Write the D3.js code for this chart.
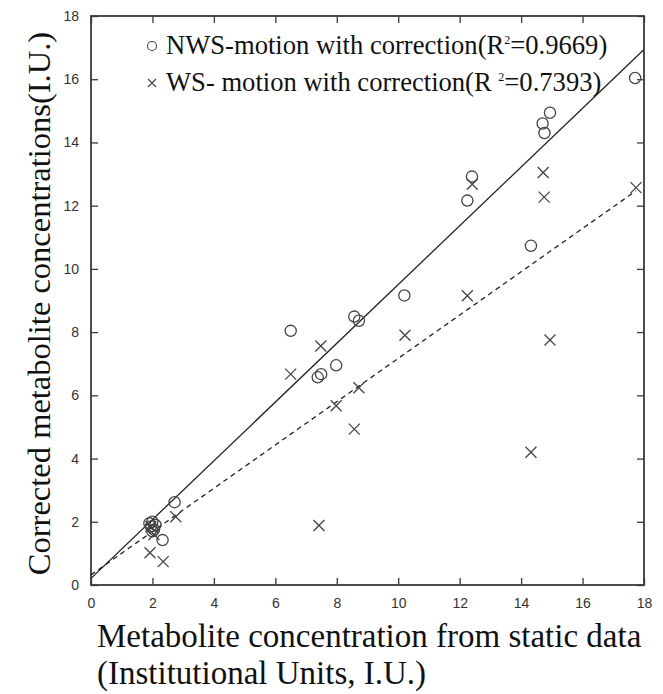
<!DOCTYPE html>
<html>
<head>
<meta charset="utf-8">
<script src="https://cdn.jsdelivr.net/npm/d3@7"></script>
<style>
  body { margin: 0; background: #fff; }
  svg { display: block; }
</style>
</head>
<body>
<div id="chart"></div>
<script>
// values
const nwsX = [1.90, 2.00, 1.95, 2.05, 2.10, 2.00, 2.33, 2.72, 6.50, 7.38, 7.49, 7.98, 8.57, 8.72, 10.20, 12.25, 12.40, 14.32, 14.70, 14.76, 14.94, 17.71];
const nwsY = [1.95, 2.00, 1.85, 1.75, 1.90, 1.70, 1.42, 2.62, 8.04, 6.57, 6.67, 6.95, 8.49, 8.36, 9.16, 12.16, 12.92, 10.73, 14.60, 14.30, 14.94, 16.04];
const wsX  = [1.92, 1.95, 2.05, 2.35, 2.76, 6.50, 7.42, 7.48, 7.98, 8.57, 8.72, 10.22, 12.25, 12.41, 14.32, 14.72, 14.75, 14.94, 17.74];
const wsY  = [1.02, 1.85, 1.60, 0.74, 2.16, 6.67, 1.88, 7.56, 5.67, 4.93, 6.24, 7.90, 9.15, 12.68, 4.20, 13.05, 12.27, 7.75, 12.57];
// fitted lines: [x0, y0, x1, y1]
const nwsFit = [0, 0.21, 18, 16.94];
const wsFit  = [0, 0.32, 17.74, 12.47];
const ticks  = [0, 2, 4, 6, 8, 10, 12, 14, 16, 18];
const legendLabels = ["NWS-motion with correction(R", "=0.9669)", "WS- motion with correction(R ", "=0.7393)"];

const W = 663, H = 694;
const margin = { top: 16, right: 19, bottom: 109, left: 91 };
const w = W - margin.left - margin.right;
const h = H - margin.top - margin.bottom;

const svg = d3.select('#chart').append('svg')
  .attr('width', W).attr('height', H);
const g = svg.append('g').attr('transform', `translate(${margin.left},${margin.top})`);

const x = d3.scaleLinear().domain([0, 18]).range([0, w]);
const y = d3.scaleLinear().domain([0, 18]).range([h, 0]);

const ink = '#3a3a3a';
const tickFont = "'Liberation Sans', Arial, sans-serif";
const serif = "'Liberation Serif', 'Times New Roman', serif";

// axes, ticks pointing inward on all sides
function styleAxis(sel) {
  sel.select('.domain').remove();
  sel.selectAll('line').attr('stroke', ink).attr('stroke-width', 1.3);
  sel.selectAll('text').attr('fill', '#333').style('font-family', tickFont).style('font-size', '14px');
}
g.append('g').attr('transform', `translate(0,${h})`)
  .call(d3.axisBottom(x).tickValues(ticks).tickSize(-7).tickPadding(13).tickFormat(d3.format('d')))
  .call(styleAxis);
g.append('g')
  .call(d3.axisLeft(y).tickValues(ticks).tickSize(-7).tickPadding(12).tickFormat(d3.format('d')))
  .call(styleAxis);
g.append('g')
  .call(d3.axisTop(x).tickValues(ticks).tickSize(-7).tickFormat(''))
  .call(styleAxis);
g.append('g').attr('transform', `translate(${w},0)`)
  .call(d3.axisRight(y).tickValues(ticks).tickSize(-7).tickFormat(''))
  .call(styleAxis);

g.append('rect').attr('width', w).attr('height', h)
  .attr('fill', 'none').attr('stroke', ink).attr('stroke-width', 1.8);

// fit lines
g.append('line')
  .attr('x1', x(nwsFit[0])).attr('y1', y(nwsFit[1]))
  .attr('x2', x(nwsFit[2])).attr('y2', y(nwsFit[3]))
  .attr('stroke', '#222').attr('stroke-width', 1.3);
g.append('line')
  .attr('x1', x(wsFit[0])).attr('y1', y(wsFit[1]))
  .attr('x2', x(wsFit[2])).attr('y2', y(wsFit[3]))
  .attr('stroke', '#222').attr('stroke-width', 1.3)
  .attr('stroke-dasharray', '5,4');

// points
const markColor = '#444';
g.append('g').selectAll('circle')
  .data(d3.zip(nwsX, nwsY))
  .enter().append('circle')
    .attr('cx', d => x(d[0])).attr('cy', d => y(d[1]))
    .attr('r', 5.6)
    .attr('fill', 'none').attr('stroke', markColor).attr('stroke-width', 1.3);

const s = 5.5;
g.append('g').selectAll('path')
  .data(d3.zip(wsX, wsY))
  .enter().append('path')
    .attr('transform', d => `translate(${x(d[0])},${y(d[1])})`)
    .attr('d', `M${-s},${-s}L${s},${s}M${-s},${s}L${s},${-s}`)
    .attr('fill', 'none').attr('stroke', markColor).attr('stroke-width', 1.3);

// legend
const leg = g.append('g');
leg.append('circle').attr('cx', 61).attr('cy', 30).attr('r', 4.5)
  .attr('fill', 'none').attr('stroke', markColor).attr('stroke-width', 1.1);
leg.append('path').attr('transform', 'translate(61,67)')
  .attr('d', 'M-4,-4L4,4M-4,4L4,-4')
  .attr('fill', 'none').attr('stroke', markColor).attr('stroke-width', 1.1);

const t1 = leg.append('text').attr('x', 75).attr('y', 38)
  .style('font-family', serif).style('font-size', '26.6px').attr('fill', '#111');
t1.append('tspan').text(legendLabels[0]);
t1.append('tspan').text('2').attr('dy', -10).style('font-size', '12px');
t1.append('tspan').text(legendLabels[1]).attr('dy', 10);

const t2 = leg.append('text').attr('x', 75).attr('y', 75)
  .style('font-family', serif).style('font-size', '26.6px').attr('fill', '#111');
t2.append('tspan').text(legendLabels[2]);
t2.append('tspan').text('2').attr('dy', -10).style('font-size', '12px');
t2.append('tspan').text(legendLabels[3]).attr('dy', 10);

// axis titles
svg.append('text')
  .attr('transform', `translate(50,${margin.top + h / 2 + 3}) rotate(-90)`)
  .attr('text-anchor', 'middle')
  .style('font-family', serif).style('font-size', '32.5px').attr('fill', '#111')
  .text('Corrected metabolite concentrations(I.U.)');

svg.append('text').attr('x', 97).attr('y', 647)
  .style('font-family', serif).style('font-size', '33px').attr('fill', '#111')
  .text('Metabolite concentration from static data');
svg.append('text').attr('x', 97).attr('y', 684)
  .style('font-family', serif).style('font-size', '33px').attr('fill', '#111')
  .text('(Institutional Units, I.U.)');
</script>
</body>
</html>
